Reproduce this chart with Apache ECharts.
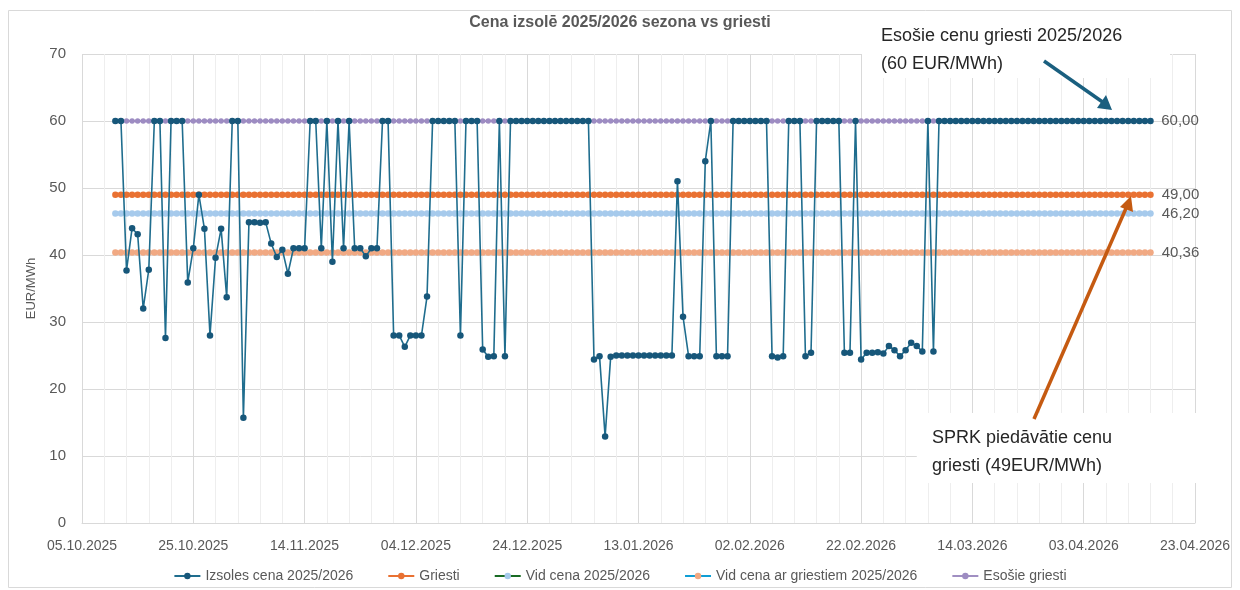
<!DOCTYPE html>
<html>
<head>
<meta charset="utf-8">
<title>Cena izsolē 2025/2026 sezona vs griesti</title>
<script src="https://cdn.jsdelivr.net/npm/echarts@6/dist/echarts.min.js"></script>
<style>
  html, body { margin: 0; padding: 0; background: #fff; }
  #chart { width: 1240px; height: 590px; }
</style>
</head>
<body>
<div id="chart"></div>
<script>
// ass sākums: 05.10.2025, dienas kopš tā datuma
const axisStart = Date.UTC(2025, 9, 5);
const axisDays = 200;
const tickStep = 20;
const firstDay = 6; // 11.10.2025

// Izsoles cena 2025/2026, EUR/MWh, katru dienu no 11.10.2025
const izsolesCena = [
  60, 60, 37.7, 44.0, 43.1, 32.0, 37.8, 60, 60, 27.6,
  60, 60, 60, 35.9, 41.0, 49.0, 43.9, 28.0, 39.6, 43.9,
  33.7, 60, 60, 15.7, 44.9, 44.9, 44.8, 44.9, 41.7, 39.7,
  40.8, 37.2, 41.0, 41.0, 41.0, 60, 60, 41.0, 60, 39.0,
  60, 41.0, 60, 41.0, 41.0, 39.8, 41.0, 41.0, 60, 60,
  28.0, 28.0, 26.3, 28.0, 28.0, 28.0, 33.8, 60, 60, 60,
  60, 60, 28.0, 60, 60, 60, 25.9, 24.8, 24.9, 60,
  24.9, 60, 60, 60, 60, 60, 60, 60, 60, 60,
  60, 60, 60, 60, 60, 60, 24.4, 24.9, 12.9, 24.8,
  25.0, 25.0, 25.0, 25.0, 25.0, 25.0, 25.0, 25.0, 25.0, 25.0,
  25.0, 51.0, 30.8, 24.9, 24.9, 24.9, 54.0, 60, 24.9, 24.9,
  24.9, 60, 60, 60, 60, 60, 60, 60, 24.9, 24.7,
  24.9, 60, 60, 60, 24.9, 25.4, 60, 60, 60, 60,
  60, 25.4, 25.4, 60, 24.4, 25.4, 25.4, 25.5, 25.3, 26.4,
  25.8, 24.9, 25.8, 26.9, 26.4, 25.6, 60, 25.6, 60, 60,
  60, 60, 60, 60, 60, 60, 60, 60, 60, 60,
  60, 60, 60, 60, 60, 60, 60, 60, 60, 60,
  60, 60, 60, 60, 60, 60, 60, 60, 60, 60,
  60, 60, 60, 60, 60, 60, 60
];

// pastāvīgie līmeņi
const griesti = 49.00;
const vidCena = 46.20;
const vidCenaArGriestiem = 40.36;
const esosieGriesti = 60.00;

const seriesNames = ['Izsoles cena 2025/2026', 'Griesti', 'Vid cena 2025/2026',
  'Vid cena ar griestiem 2025/2026', 'Esošie griesti'];
const yTicks = [0, 10, 20, 30, 40, 50, 60, 70];

function fmtDate(d) {
  const dt = new Date(axisStart + d * 86400000);
  const dd = String(dt.getUTCDate()).padStart(2, '0');
  const mm = String(dt.getUTCMonth() + 1).padStart(2, '0');
  return dd + '.' + mm + '.' + dt.getUTCFullYear();
}
const fmtNum = v => v.toFixed(2).replace('.', ',');

// pēdējam punktam rāda vērtību
function withLastLabel(points, show) {
  return points.map((p, i) => {
    if (show && i === points.length - 1) {
      return { value: p, label: { show: true, formatter: () => fmtNum(p[1]) } };
    }
    return p;
  });
}

const izsolesData = izsolesCena.map((v, i) => [firstDay + i, v]);
const flat = level => izsolesCena.map((v, i) => [firstDay + i, level]);

const labelStyle = { position: 'right', distance: 8, fontSize: 15, color: '#595959', fontFamily: 'Liberation Sans' };

const chart = echarts.init(document.getElementById('chart'));
chart.setOption({
  animation: false,
  textStyle: { fontFamily: 'Liberation Sans' },
  title: {
    text: 'Cena izsolē 2025/2026 sezona vs griesti',
    left: 'center',
    top: 10,
    textStyle: { fontSize: 16, fontWeight: 'bold', color: '#595959' }
  },
  legend: {
    bottom: 2,
    left: 'center',
    itemGap: 34,
    itemWidth: 26,
    itemHeight: 8,
    textStyle: { fontSize: 14, color: '#595959' },
    data: seriesNames
  },
  grid: { left: 82, right: 45, top: 54, bottom: 67 },
  xAxis: {
    type: 'value',
    min: 0,
    max: axisDays,
    interval: tickStep,
    axisLine: { show: true, lineStyle: { color: '#d9d9d9' } },
    axisTick: { show: false },
    axisLabel: { formatter: fmtDate, fontSize: 14, color: '#595959', margin: 16 },
    splitLine: { show: true, lineStyle: { color: '#d9d9d9' } },
    minorTick: { show: false, splitNumber: 5 },
    minorSplitLine: { show: true, lineStyle: { color: '#eeeeee' } }
  },
  yAxis: {
    type: 'value',
    min: yTicks[0],
    max: yTicks[yTicks.length - 1],
    interval: 10,
    name: 'EUR/MWh',
    nameLocation: 'middle',
    nameGap: 36,
    nameTextStyle: { fontSize: 13, color: '#595959' },
    axisLine: { show: false },
    axisTick: { show: false },
    axisLabel: { fontSize: 15, color: '#595959', margin: 16 },
    splitLine: { lineStyle: { color: '#d9d9d9' } }
  },
  series: [
    {
      name: seriesNames[0],
      type: 'line',
      z: 6,
      data: izsolesData,
      symbol: 'circle',
      symbolSize: 6.5,
      lineStyle: { color: '#1f6d8e', width: 1.6 },
      itemStyle: { color: '#17577a' },
      label: labelStyle
    },
    {
      name: seriesNames[1],
      type: 'line',
      z: 4,
      data: withLastLabel(flat(griesti), true),
      symbol: 'circle',
      symbolSize: 6.5,
      lineStyle: { color: '#e97132', width: 2 },
      itemStyle: { color: '#e97132' },
      label: labelStyle
    },
    {
      name: seriesNames[2],
      type: 'line',
      z: 3,
      data: withLastLabel(flat(vidCena), true),
      symbol: 'circle',
      symbolSize: 6.5,
      lineStyle: { color: '#196b24', width: 1.5 },
      itemStyle: { color: '#a6caec' },
      label: labelStyle
    },
    {
      name: seriesNames[3],
      type: 'line',
      z: 3,
      data: withLastLabel(flat(vidCenaArGriestiem), true),
      symbol: 'circle',
      symbolSize: 6.5,
      lineStyle: { color: '#0f9ed5', width: 1.5 },
      itemStyle: { color: '#f1a983' },
      label: labelStyle
    },
    {
      name: seriesNames[4],
      type: 'line',
      z: 2,
      data: withLastLabel(flat(esosieGriesti), true),
      symbol: 'circle',
      symbolSize: 5.5,
      lineStyle: { color: '#a08fc2', width: 2 },
      itemStyle: { color: '#9d8cc2' },
      label: labelStyle
    }
  ],
  graphic: [
    // rāmis ap diagrammu
    { type: 'rect', z: 0, silent: true, shape: { x: 8.5, y: 10.5, width: 1223, height: 577 },
      style: { fill: 'none', stroke: '#d9d9d9', lineWidth: 1 } },
    // teksta lodziņš augšā
    { type: 'rect', z: 10, silent: true, shape: { x: 862, y: 20, width: 308, height: 58 },
      style: { fill: '#fff' } },
    { type: 'text', z: 11, left: 881, top: 22,
      style: { text: 'Esošie cenu griesti 2025/2026\n(60 EUR/MWh)', fontSize: 18, lineHeight: 28,
        fill: '#262626', fontFamily: 'Liberation Sans' } },
    { type: 'line', z: 11, shape: { x1: 1044, y1: 61, x2: 1104, y2: 103 },
      style: { stroke: '#1a5f7f', lineWidth: 3.5 } },
    { type: 'polygon', z: 11, shape: { points: [[1112, 110], [1097, 108], [1106, 95]] },
      style: { fill: '#1a5f7f' } },
    // teksta lodziņš apakšā
    { type: 'rect', z: 10, silent: true, shape: { x: 917, y: 413, width: 280, height: 70 },
      style: { fill: '#fff' } },
    { type: 'text', z: 11, left: 932, top: 424,
      style: { text: 'SPRK piedāvātie cenu\ngriesti (49EUR/MWh)', fontSize: 18, lineHeight: 28,
        fill: '#262626', fontFamily: 'Liberation Sans' } },
    { type: 'line', z: 11, shape: { x1: 1034, y1: 419, x2: 1127, y2: 206 },
      style: { stroke: '#c55a11', lineWidth: 3.5 } },
    { type: 'polygon', z: 11, shape: { points: [[1131, 196], [1133, 212], [1120, 207]] },
      style: { fill: '#c55a11' } }
  ]
});
</script>
</body>
</html>
